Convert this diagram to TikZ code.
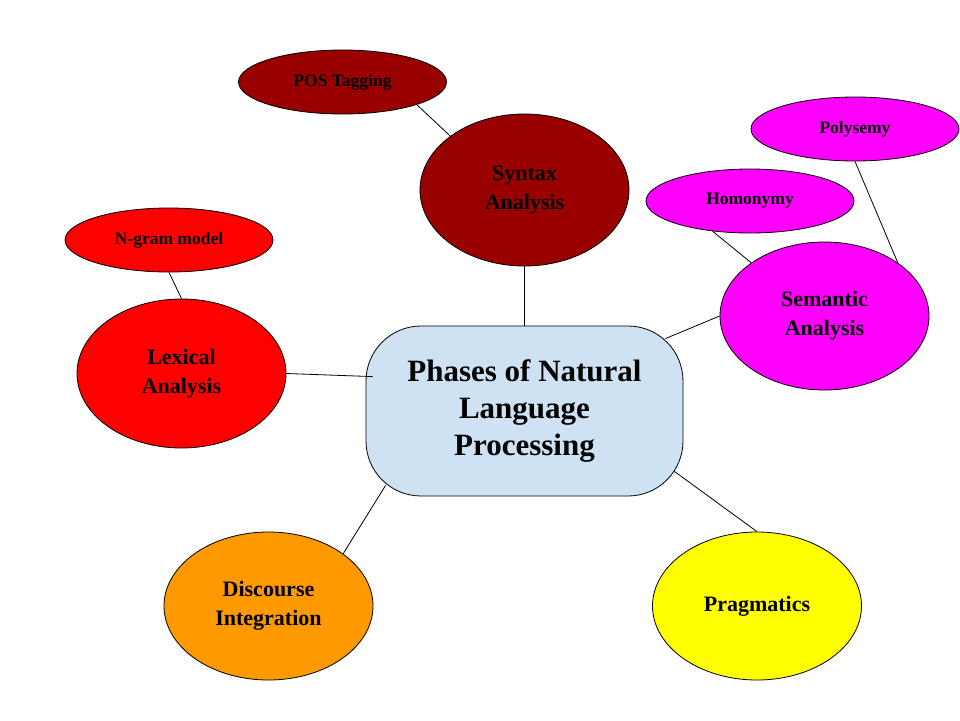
\documentclass[tikz,border=0pt]{standalone}
\usepackage{fontspec}
\setmainfont{Liberation Serif}
\usetikzlibrary{shapes.geometric,calc}
\definecolor{darkred}{RGB}{153,0,0}
\definecolor{lightblue}{RGB}{207,226,243}
\definecolor{orangeC}{RGB}{255,153,0}
\definecolor{magentaC}{RGB}{255,0,255}
\definecolor{yellowC}{RGB}{255,255,0}
\definecolor{redC}{RGB}{255,0,0}
\begin{document}
\begin{tikzpicture}[x=1pt,y=-1pt,
  ell/.style={ellipse, draw=black, line width=0.8pt, inner sep=0pt, align=center, text=black, font=\bfseries},
  small/.style={ell, minimum width=208pt, minimum height=64pt, font=\fontsize{17.5}{20}\selectfont\bfseries},
  big/.style={ell, minimum width=209pt, minimum height=148pt, font=\fontsize{22}{29}\selectfont\bfseries},
  link/.style={draw=black, line width=0.8pt}]
\useasboundingbox (0,0) rectangle (960,720);
\fill[white] (0,0) rectangle (960,720);

\node[draw=black, line width=0.8pt, fill=lightblue, rounded corners=55pt,
  minimum width=317pt, minimum height=170pt, align=center, inner sep=0pt,
  font=\fontsize{31}{37}\selectfont\bfseries] (box) at (524.5,411)
  {\raisebox{-4pt}{\begin{tabular}{@{}c@{}}Phases of Natural\\Language\\Processing\end{tabular}}};

\node[big, fill=darkred, minimum height=152pt] (syn) at (524.5,190) {Syntax\\Analysis};
\node[small, fill=darkred] (pos) at (342.5,82) {POS Tagging};

\node[big, fill=redC, minimum height=149pt] (lex) at (181.5,373.5) {Lexical\\Analysis};
\node[small, fill=redC] (ngram) at (169,240) {N-gram model};

\node[big, fill=magentaC] (sem) at (824.5,316) {Semantic\\Analysis};
\node[small, fill=magentaC] (hom) at (750,201) {Homonymy};
\node[small, fill=magentaC] (poly) at (855,129) {Polysemy};

\node[big, fill=orangeC] (dis) at (268.5,606) {Discourse\\Integration};
\node[big, fill=yellowC] (prag) at (757,606) {Pragmatics};

\draw[link] (pos.-17) -- (syn.144);
\draw[link] (syn.south) -- (box.north);
\draw[link] (ngram.south) -- (lex.north);
\draw[link] (lex.east) -- ($(box.north west)+(7,51)$);
\draw[link] (hom.219) -- (sem.144);
\draw[link] (poly.south) -- (sem.36);
\draw[link] (sem.west) -- ($(box.north east)+(-18,13)$);
\draw[link] ($(box.south west)+(20,-11)$) -- (dis.35);
\draw[link] ($(box.south east)+(-9,-25)$) -- (prag.north);
\end{tikzpicture}
\end{document}
